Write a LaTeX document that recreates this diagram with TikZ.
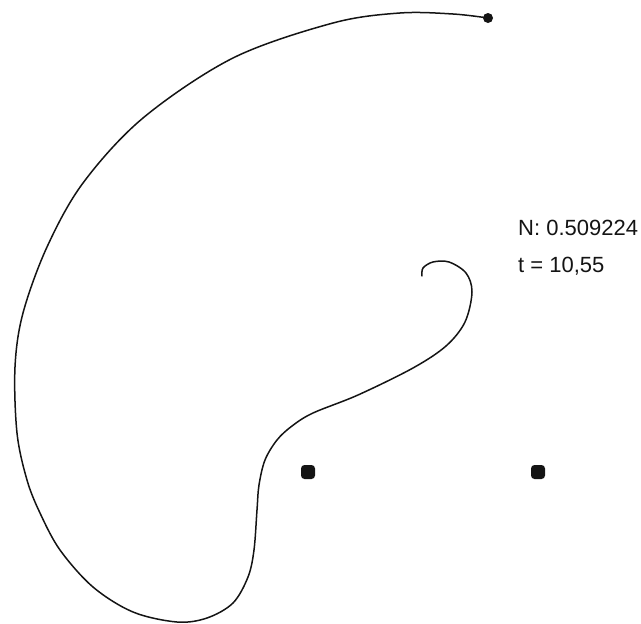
\documentclass[tikz,border=0pt]{standalone}
\usepackage{fontspec}
\setmainfont{Liberation Sans}
\usepackage{tikz}
\usetikzlibrary{calc}
\definecolor{InkBlack}{RGB}{20,20,20}
\newcommand{\pivotdot}[2]{%
  \fill[InkBlack,rounded corners=3.5pt] (#1-7,#2-7) rectangle (#1+7,#2+7);}

\begin{document}
\begin{tikzpicture}[x=1pt,y=-1pt]
  \useasboundingbox (0,0) rectangle (641,624);
  % trajectory of the free end
  \draw[InkBlack,line width=1.5pt,line cap=round,line join=round]
    plot[smooth,tension=0.55] coordinates {
      (488,18) (453,14) (400,13) (333,23) (233,58) (143,118) (83,183)
      (47,247) (23,313) (15,367) (17,433) (27,480) (40,513) (60,550)
      (93,587) (133,612) (177,622) (207,618) (233,603) (248,577)
      (254,550) (257,510) (259,485) (265,460) (277,440) (292,426)
      (313,413) (358,395) (413,368) (446,346) (465,322)
      (472,292) (466,273) (449,262) (433,262) (423,268) (422,276)};
  \fill[InkBlack] (488,18) circle[radius=5];
  % fixed points
  \pivotdot{308}{472}
  \pivotdot{538}{472}
  \node[InkBlack,anchor=base west,inner sep=0pt,font=\fontsize{22}{26}\selectfont]
    (nval) at (518,235) {N: 0.509224};
  \node[InkBlack,anchor=base west,inner sep=0pt,font=\fontsize{22}{26}\selectfont]
    (tval) at (518,272) {t = 10,55};
\end{tikzpicture}
\end{document}
